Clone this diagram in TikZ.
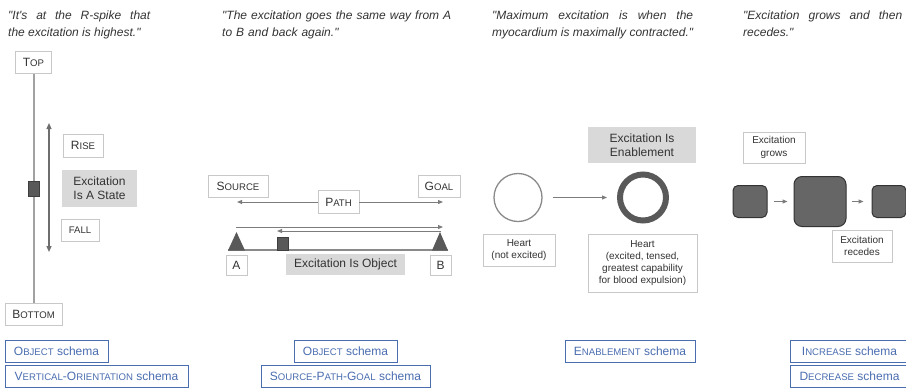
\documentclass[tikz,border=0pt]{standalone}
\usepackage{fontspec}
\setmainfont{Liberation Sans}[Ligatures=TeXOff]
\usetikzlibrary{arrows.meta}
\definecolor{txtgray}{HTML}{333333}
\definecolor{boxline}{HTML}{C8C8C8}
\definecolor{linegray}{HTML}{8A8A8A}
\definecolor{markgray}{HTML}{595959}
\definecolor{stategray}{HTML}{D9D9D9}
\definecolor{schemablue}{HTML}{4A6DB0}
\newcommand{\capsc}[2]{#1{\fontsize{9.6}{12}\selectfont\MakeUppercase{#2}}}

\begin{document}
\begin{tikzpicture}[x=1pt,y=-1pt,
  every node/.style={text=txtgray},
  quotetext/.style={font=\fontsize{12}{17}\selectfont\itshape, align=justify, inner sep=0pt, anchor=north west},
  lbl/.style={draw=boxline, line width=0.8pt, fill=white, inner sep=1pt, minimum height=22pt, font=\fontsize{12}{14}\selectfont},
  lblsm/.style={draw=boxline, line width=0.8pt, fill=white, inner sep=1pt, align=center, font=\fontsize{10}{12.2}\selectfont},
  conceptbox/.style={fill=stategray, inner sep=1pt, align=center, font=\fontsize{12}{14}\selectfont},
  schemabox/.style={draw=schemablue, line width=1pt, text=schemablue, fill=white, inner sep=1pt, minimum height=22pt, font=\fontsize{12}{14}\selectfont},
  blockmark/.style={fill=markgray, draw=markgray!70!black, line width=0.5pt, inner sep=0pt},
  blob/.style={fill=black!60, draw=black!80, line width=1pt, rounded corners=5pt, inner sep=0pt},
  axisline/.style={draw=linegray!80, line width=2pt},
  trackline/.style={draw=linegray, line width=1.5pt},
  darr/.style={draw=linegray!80!black, line width=1.2pt, {Triangle[length=6pt,width=5pt]}-{Triangle[length=6pt,width=5pt]}},
  thinarr/.style={draw=linegray!90!black, line width=1pt, -{Triangle[length=5pt,width=4pt]}}]
\useasboundingbox (0,0) rectangle (906,389);

% vertical orientation
\node[quotetext, text width=142pt] (q1) at (8,10.5) {"It's at the R-spike that\linebreak the excitation is highest."};
\node[lbl, minimum width=36pt] (top) at (33.5,62.5) {\capsc{T}{op}};
\node[lbl, minimum width=57pt] (bottom) at (33.5,314) {\capsc{B}{ottom}};
\draw[axisline] (top.south) -- (top.south |- bottom.north);
\node[blockmark, minimum width=11pt, minimum height=15pt] (state) at (33.5,188.5) {};
\coordinate (riseTip) at (49,123);
\coordinate (fallTip) at (49,252);
\draw[darr] (fallTip) -- (riseTip);
\node[lbl, minimum width=40pt, minimum height=23pt] (rise) at (83,145.5) {\capsc{R}{ise}};
\node[conceptbox, minimum width=75pt, minimum height=37pt] (isstate) at (99.5,188.5) {Excitation\\Is A State};
\node[lbl, minimum width=38pt] (fall) at (80,230) {\capsc{}{fall}};
\node[schemabox, minimum width=103pt] (obj1) at (56.5,351.5) {\capsc{O}{bject} schema};
\node[schemabox, minimum width=183pt] (vert) at (96.5,376.5) {\capsc{V}{ertical}-\capsc{O}{rientation} schema};

% source-path-goal
\node[quotetext, align=left, text width=240pt] (q2) at (222,10.5) {"The excitation goes the same way from A\\to B and back again."};
\node[lbl, minimum width=60pt] (source) at (238,186) {\capsc{S}{ource}};
\node[lbl, minimum width=42pt] (goal) at (439,186) {\capsc{G}{oal}};
\node[lbl, minimum width=41pt, minimum height=23pt] (path) at (338.5,202) {\capsc{P}{ath}};
\coordinate (pathL) at (237,202);
\coordinate (pathR) at (443,202);
\draw[thinarr] (path) -- (pathL);
\draw[thinarr] (path) -- (pathR);
\coordinate (fwdL) at (236,227);
\coordinate (fwdR) at (443,227);
\draw[thinarr] (fwdL) -- (fwdR);
\coordinate (backL) at (277,231);
\coordinate (backR) at (441,231);
\draw[thinarr] (backR) -- (backL);
\coordinate (baseL) at (228,250);
\coordinate (baseR) at (448,250);
\draw[trackline] (baseL) -- (baseR);
\fill[markgray] (228,250.5) -- (245,250.5) -- (236.5,232) -- cycle;
\fill[markgray] (432,250.5) -- (448,250.5) -- (440,232) -- cycle;
\node[blockmark, minimum width=11pt, minimum height=13pt, anchor=south west] (obj) at (277,250) {};
\node[lbl, minimum width=21pt, minimum height=20pt] (ptA) at (236.5,265) {A};
\node[lbl, minimum width=21pt, minimum height=20pt] (ptB) at (440.5,265) {B};
\node[conceptbox, minimum width=119pt, minimum height=21pt] (isobj) at (345.5,264.5) {Excitation Is Object};
\node[schemabox, minimum width=103pt] (obj2) at (345.5,351.5) {\capsc{O}{bject} schema};
\node[schemabox, minimum width=169pt] (spg) at (345.5,376.5) {\capsc{S}{ource}-\capsc{P}{ath}-\capsc{G}{oal} schema};

% enablement
\node[quotetext, text width=201pt] (q3) at (492,10.5) {"Maximum excitation is when the\linebreak myocardium is maximally contracted."};
\node[conceptbox, minimum width=108pt, minimum height=36pt] (isenable) at (642,145) {Excitation Is\\Enablement};
\node[circle, draw=linegray, line width=1.3pt, minimum size=48pt, inner sep=0pt] (calm) at (518,197.5) {};
\node[circle, draw=markgray, line width=6pt, minimum size=46pt, inner sep=0pt] (tense) at (643,197.5) {};
\draw[thinarr, shorten <=10pt, shorten >=10pt] (calm) -- (tense);
\node[lblsm, minimum width=72pt, minimum height=32pt] (heartA) at (519,250) {Heart\\(not excited)};
\node[lblsm, minimum width=109pt, minimum height=58pt] (heartB) at (642.5,263) {Heart\\(excited, tensed,\\greatest capability\\for blood expulsion)};
\node[schemabox, minimum width=130pt] (enable) at (630,351.5) {\capsc{E}{nablement} schema};

% increase / decrease
\node[quotetext, text width=159pt] (q4) at (743,10.5) {"Excitation grows and then\linebreak recedes."};
\node[lblsm, minimum width=62pt, minimum height=31pt] (grows) at (774,147.5) {Excitation\\grows};
\node[blob, minimum width=34pt, minimum height=32pt] (small1) at (750,201.5) {};
\node[blob, minimum width=52pt, minimum height=50pt, rounded corners=8pt] (large) at (820,201.5) {};
\node[blob, minimum width=34pt, minimum height=32pt] (small2) at (889,201.5) {};
\draw[thinarr, shorten <=6pt, shorten >=6pt] (small1) -- (large);
\draw[thinarr, shorten <=5pt, shorten >=8pt] (large) -- (small2);
\node[lblsm, minimum width=60pt, minimum height=32pt] (recedes) at (862,246) {Excitation\\recedes};
\node[schemabox, minimum width=119pt] (incr) at (849.5,351.5) {\capsc{I}{ncrease} schema};
\node[schemabox, minimum width=119pt] (decr) at (849.5,376.5) {\capsc{D}{ecrease} schema};
\end{tikzpicture}
\end{document}
